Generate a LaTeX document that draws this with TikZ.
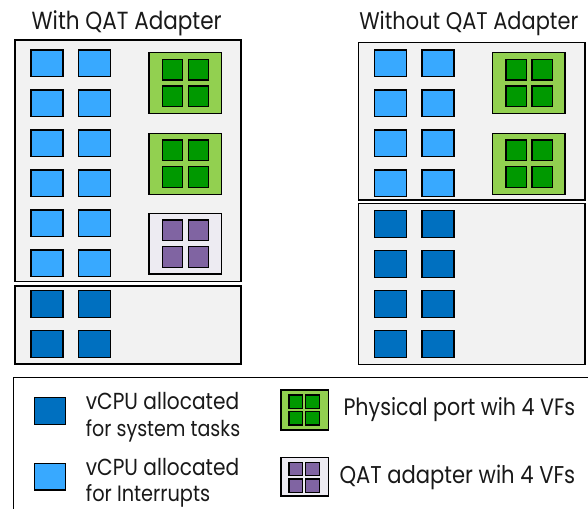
\documentclass[tikz,border=0pt]{standalone}
\usepackage{fontspec}
\setmainfont{Poppins}
\usepackage{graphicx}
\definecolor{panelgray}{HTML}{F2F2F2}
\definecolor{lblue}{HTML}{38A9FF}
\definecolor{dblue}{HTML}{0070C0}
\definecolor{lgreen}{HTML}{92D050}
\definecolor{dgreen}{HTML}{009900}
\definecolor{qbg}{HTML}{EDEBF2}
\definecolor{qpurple}{HTML}{8064A2}
\newcommand{\fitw}[2]{\resizebox{#1pt}{!}{\scalebox{1}[1.15]{#2}}}
\begin{document}
\begin{tikzpicture}[x=1pt,y=-1pt,
  outl/.style={draw=black,line width=1.3pt},
  panel/.style={outl,fill=panelgray},
  lbsq/.style={outl,fill=lblue},
  dbsq/.style={outl,fill=dblue},
  gport/.style={outl,fill=lgreen},
  gvf/.style={outl,fill=dgreen},
  qport/.style={outl,fill=qbg},
  qvf/.style={outl,fill=qpurple},
  txt/.style={inner sep=0pt,text=black!90}]
\useasboundingbox (0,0) rectangle (588,508);
\clip (0,0) rectangle (588,508);
% titles
\node[txt,anchor=base] (t1) at (126.7,29.3) {\fitw{190}{With QAT Adapter}};
\node[txt,anchor=base] (t2) at (468.8,29.3) {\fitw{219}{Without QAT Adapter}};
% left panel
\path[panel] (15,40) rectangle (241,281.7);
\path[panel] (15,286) rectangle (241,364);
\foreach \y in {50,90,130,170,210,250}{
  \path[lbsq] (31,\y) rectangle ++(32,26.7);
  \path[lbsq] (78.7,\y) rectangle ++(32,26.7);
}
\foreach \y in {290.7,330.7}{
  \path[dbsq] (31,\y) rectangle ++(32,26.7);
  \path[dbsq] (78.7,\y) rectangle ++(32,26.7);
}
\foreach \y in {52.7,133.3}{
  \path[gport] (149,\y) rectangle ++(72.7,61);
  \foreach \dx in {13.3,39.3}{\foreach \dy in {6.6,33.3}{
    \path[gvf] (149+\dx,\y+\dy) rectangle ++(20.3,20.7);}}
}
\path[qport] (149,213.3) rectangle ++(72.7,60.7);
\foreach \dx in {13.3,39.3}{\foreach \dy in {6.7,33.4}{
  \path[qvf] (149+\dx,213.3+\dy) rectangle ++(20.3,20.7);}}
% right panel
\path[panel] (358.3,42.7) rectangle (585,200);
\path[panel] (358.3,203.3) rectangle (585,364.3);
\foreach \y in {50,90,130,170}{
  \path[lbsq] (374.7,\y) rectangle ++(32,26.7);
  \path[lbsq] (422,\y) rectangle ++(32,26.7);
}
\foreach \y in {210.7,250.7,290.7,330.7}{
  \path[dbsq] (374.7,\y) rectangle ++(32,26.7);
  \path[dbsq] (422,\y) rectangle ++(32,26.7);
}
\foreach \y in {52.7,133.3}{
  \path[gport] (492.7,\y) rectangle ++(72.3,61);
  \foreach \dx in {13.3,39.3}{\foreach \dy in {6.6,33.3}{
    \path[gvf] (492.7+\dx,\y+\dy) rectangle ++(20.3,20.7);}}
}
% legend
\path[outl,fill=white] (13.3,377.3) rectangle (600,520);
\path[dbsq] (34.3,397.7) rectangle (65.7,424.3);
\path[lbsq] (34.3,463.3) rectangle (65.7,490);
\path[gport] (281,390) rectangle (328.3,430);
\foreach \x in {289,305.7}{\foreach \y in {395,411.7}{
  \path[gvf] (\x,\y) rectangle ++(13.6,13.3);}}
\path[qport] (281,457.7) rectangle (328.3,496);
\foreach \x in {289,305.7}{\foreach \y in {462.3,479}{
  \path[qvf] (\x,\y) rectangle ++(13.6,13.3);}}
\node[txt,anchor=base west] (l1a) at (85.7,409.3) {\fitw{153.3}{vCPU allocated}};
\node[txt,anchor=base west] (l1b) at (85.7,436.7) {\fitw{154.3}{for system tasks}};
\node[txt,anchor=base west] (l2a) at (85.7,475) {\fitw{153.3}{vCPU allocated}};
\node[txt,anchor=base west] (l2b) at (85.7,501.7) {\fitw{124.3}{for Interrupts}};
\node[txt,anchor=base west] (l3) at (343.3,415.3) {\fitw{231.7}{Physical port wih 4 VFs}};
\node[txt,anchor=base west] (l4) at (339.3,483.3) {\fitw{235.7}{QAT adapter wih 4 VFs}};
\end{tikzpicture}
\end{document}
